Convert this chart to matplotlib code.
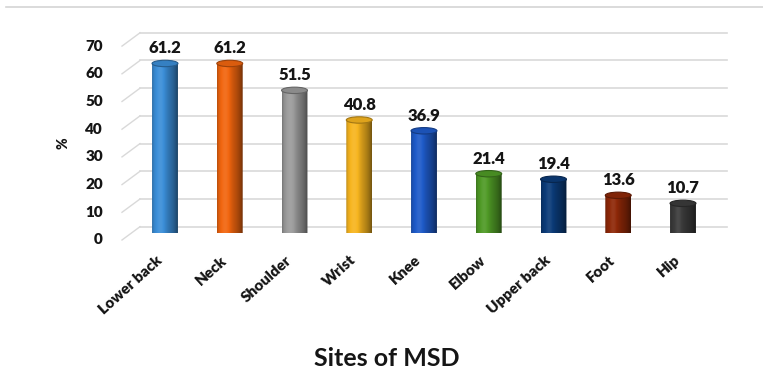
import numpy as np
import matplotlib
matplotlib.use("Agg")
import matplotlib.pyplot as plt
from matplotlib.patches import PathPatch, Ellipse
from matplotlib.path import Path
from matplotlib.lines import Line2D
from matplotlib.transforms import offset_copy
from matplotlib.colors import to_rgb

sites = ["Lower back", "Neck", "Shoulder", "Wrist", "Knee",
         "Elbow", "Upper back", "Foot", "Hip"]
percent = [61.2, 61.2, 51.5, 40.8, 36.9, 21.4, 19.4, 13.6, 10.7]
bar_colors = ["#3b8ed8", "#f2660f", "#9b9b9b", "#f7b51f", "#1f5bc9",
              "#4f9a26", "#0b3b78", "#8e2808", "#3b3b3b"]
yticks = [0, 10, 20, 30, 40, 50, 60, 70]

W, H, DPI = 763, 374, 100
plt.rcParams["font.family"] = ["Lato", "DejaVu Sans"]
plt.rcParams["font.weight"] = "bold"
ink = "#151515"

fig = plt.figure(figsize=(W / DPI, H / DPI), dpi=DPI)

# plot area in pixels: bar 0 centred at x=165, 64.75 px per bar, y=0 at 233
step = 64.75
x_left = 165 - step / 2
y0_px = 233
px_per_unit = 2.77
ax = fig.add_axes([x_left / W, (H - y0_px) / H,
                   9 * step / W, 70 * px_per_unit / H])
ax.set_xlim(-0.5, 8.5)
ax.set_ylim(0, 70)
ax.axis("off")

# back wall sits 6 px higher, front edge 7 px lower than the bar plane
back = offset_copy(ax.transData, fig=fig, x=0, y=6.3, units="dots")
front = offset_copy(ax.transData, fig=fig, x=0, y=-7, units="dots")
wall_x0 = (140 - 165) / step
wall_x1 = (727 - 165) / step
grid_c = "#d9d9d9"
for v in yticks:
    ax.plot([wall_x0, wall_x1], [v, v], color=grid_c, lw=1.2,
            transform=back, clip_on=False, zorder=0)
    # slanted side wall edge
    p_back = back.transform((wall_x0, v))
    p_front = front.transform((wall_x0, v)) + np.array([-18, 0])
    fig.add_artist(Line2D([p_back[0], p_front[0]], [p_back[1], p_front[1]],
                          transform=None, color=grid_c, lw=1.0, zorder=0))
    ax.text(wall_x0 - 37 / step, v, str(v), transform=front, ha="right",
            va="center", fontsize=11, fontweight="heavy", color=ink)

# chart border line at the top
fig.add_artist(Line2D([6 / W, 1], [1 - 7 / H, 1 - 7 / H], color="#d4d4d4",
                      lw=1.2, transform=fig.transFigure))


def shade(color, f):
    c = np.array(to_rgb(color))
    if f >= 1:
        return c + (1 - c) * min(f - 1, 1)
    return c * f


u = np.linspace(0, 1, 200)
profile = (0.86 + 0.22 * np.exp(-((u - 0.32) / 0.22) ** 2)
           - 0.40 * u ** 4 - 0.12 * np.exp(-(u / 0.05) ** 2))

bw = 0.40
eh = 3.2 / px_per_unit  # half height of the elliptical ends, data units
t = np.linspace(np.pi, 2 * np.pi, 60)
for i, (v, col) in enumerate(zip(percent, bar_colors)):
    xc = i
    x0, x1 = xc - bw / 2, xc + bw / 2
    verts = [(x0, v), (x0, 0)]
    verts += list(zip(xc + bw / 2 * np.cos(t), eh * np.sin(t)))
    verts += [(x1, 0), (x1, v), (x0, v)]
    body = Path(verts)
    clip = PathPatch(body, transform=ax.transData, facecolor="none",
                     edgecolor="none")
    ax.add_patch(clip)
    img = np.array([[shade(col, f) for f in profile]])
    im = ax.imshow(img, extent=(x0, x1, -eh, v), aspect="auto",
                   interpolation="bilinear", zorder=2)
    im.set_clip_path(clip)
    ax.add_patch(Ellipse((xc, v), bw, 2 * eh, facecolor=shade(col, 0.9),
                         edgecolor=shade(col, 0.65), lw=0.8, zorder=3))
    ax.annotate(f"{v}", (xc, v), xytext=(0, 15), textcoords="offset pixels",
                ha="center", va="center", fontsize=12, fontweight="heavy",
                color=ink, zorder=4)

ax.set_ylim(0, 70)
ax.set_xlim(-0.5, 8.5)

for i, name in enumerate(sites):
    ax.annotate(name, (i, 0), xytext=(-5, -25), textcoords="offset pixels",
                ha="right", va="center", rotation=42, rotation_mode="anchor",
                fontsize=11, fontweight="heavy", color=ink)

fig.text(63 / W, 1 - 143 / H, "%", rotation=90, ha="center", va="center",
         fontsize=10, fontweight="heavy", color=ink)
fig.text(387 / W, 1 - 358 / H, "Sites of MSD", ha="center", va="center",
         fontsize=18, fontweight="bold", color=ink)

fig.savefig("out.png", dpi=DPI, facecolor="white")
